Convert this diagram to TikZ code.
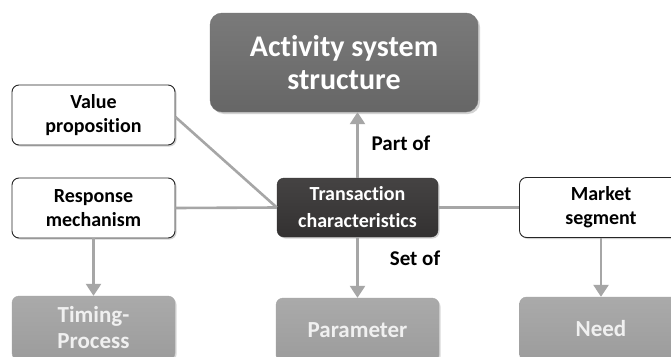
\documentclass[tikz,border=0pt]{standalone}
\usepackage{fontspec}
\setmainfont{Carlito}[Ligatures=NoCommon]
\usetikzlibrary{arrows.meta,shadows}
\definecolor{linegray}{HTML}{A6A6A6}
\definecolor{botgrayA}{HTML}{AAAAAA}
\definecolor{botgrayB}{HTML}{9C9C9C}
\definecolor{actA}{HTML}{7A7A7A}
\definecolor{actB}{HTML}{666666}
\definecolor{tcA}{HTML}{454343}
\definecolor{tcB}{HTML}{333131}
\begin{document}
\begin{tikzpicture}[x=1pt,y=-1pt,
  base/.style={rectangle,rounded corners=7pt,align=center,font=\bfseries,inner sep=0pt},
  whitebox/.style={base,draw=black!85,line width=0.9pt,fill=white,minimum width=163pt,minimum height=60pt,
     font=\bfseries\fontsize{20}{24}\selectfont,drop shadow={shadow xshift=1.5pt,shadow yshift=-1.5pt,opacity=0.35}},
  greybox/.style={base,top color=botgrayA,bottom color=botgrayB,draw=black!35,text=black!6,minimum width=163pt,minimum height=64pt,
     font=\bfseries\fontsize{23}{26}\selectfont,drop shadow={shadow xshift=1.5pt,shadow yshift=-1.5pt,opacity=0.3}},
  conn/.style={draw=linegray,line width=2.6pt},
  arr/.style={conn,-{Triangle[width=15pt,length=12pt]}},
  lbl/.style={font=\bfseries\fontsize{21}{24}\selectfont,text=black}
]
\clip (0,0) rectangle (671,356);
\fill[white] (0,0) rectangle (671,356);

\node[base,top color=actA,bottom color=actB,draw=black!55,text=white,minimum width=268pt,minimum height=99pt,rounded corners=12pt,
  font=\bfseries\fontsize{30}{33}\selectfont,drop shadow={shadow xshift=2pt,shadow yshift=-2pt,opacity=0.35}] (act) at (344,62.5) {Activity system\\structure};

\node[whitebox] (val) at (93.5,115) {Value\\proposition};
\node[whitebox] (resp) at (93.5,208) {Response\\mechanism};
\node[whitebox] (mkt) at (601,207.5) {Market\\segment};

\node[base,top color=tcA,bottom color=tcB,draw=black!80,text=white,minimum width=161pt,minimum height=59pt,
  font=\bfseries\fontsize{20}{27}\selectfont,drop shadow={shadow xshift=1.5pt,shadow yshift=-1.5pt,opacity=0.35}] (tc) at (357.5,207.5) {Transaction\\characteristics};

\node[greybox] (tim) at (93.5,328) {Timing-\\Process};
\node[greybox] (par) at (357.5,330) {Parameter};
\node[greybox] (need) at (601,329) {Need};

\draw[conn] (val.east) ++(0,2) -- (tc.west);
\draw[conn] (resp.east) -- (tc.west);
\draw[conn] (tc.east) -- (mkt.west);
\draw[arr] (tc.north) -- (tc.north |- act.south);
\draw[arr] (tc.south) -- (par.north);
\draw[arr] (resp.south) -- (tim.north);
\draw[arr] (mkt.south) -- (need.north);

\node[lbl] (partof) at (401,143) {Part of};
\node[lbl] (setof) at (415,258) {Set of};
\end{tikzpicture}
\end{document}
